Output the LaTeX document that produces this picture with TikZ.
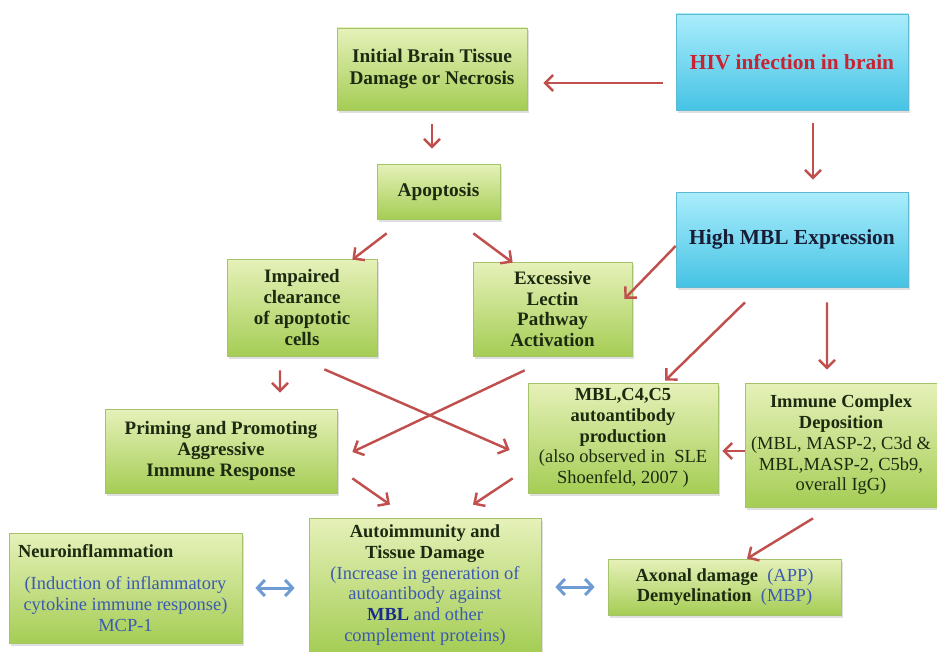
\documentclass[tikz,border=0pt]{standalone}
\usepackage{fontspec}
\setmainfont{Liberation Serif}
\usepackage{xcolor}
\usepackage{tikz}
\usetikzlibrary{shapes, arrows.meta, positioning, calc, shadows}
\definecolor{FlowRed}{RGB}{192,80,77}
\definecolor{FlowBlue}{RGB}{110,155,210}
\definecolor{LeafTop}{RGB}{230,241,185}
\definecolor{LeafBottom}{RGB}{165,205,85}
\definecolor{LeafEdge}{RGB}{165,195,105}
\definecolor{SkyTop}{RGB}{170,237,252}
\definecolor{SkyBottom}{RGB}{70,195,228}
\definecolor{SkyEdge}{RGB}{95,185,210}
\definecolor{InkGreen}{RGB}{28,42,16}
\definecolor{InkBlue}{RGB}{60,90,175}
\definecolor{InkNavy}{RGB}{25,45,140}
\definecolor{InkDark}{RGB}{25,30,55}
\definecolor{HIVRed}{RGB}{200,35,50}

\begin{document}
\begin{tikzpicture}[node distance=1cm, >=Stealth]
      \tikzstyle{leaf} = [rectangle, draw=LeafEdge, top color=LeafTop, bottom color=LeafBottom, line width=0.4pt, align=center, inner sep=2pt, text=InkGreen, font=\fontsize{10.5}{11.8}\selectfont, drop shadow={shadow xshift=0.04cm, shadow yshift=-0.05cm, opacity=0.25}]
      \tikzstyle{sky} = [rectangle, draw=SkyEdge, top color=SkyTop, bottom color=SkyBottom, line width=0.4pt, align=center, text=InkDark, font=\fontsize{12.2}{14}\selectfont\bfseries, drop shadow={shadow xshift=0.04cm, shadow yshift=-0.05cm, opacity=0.25}]
      \tikzstyle{flow} = [-{Straight Barb[length=1.6mm, width=3.2mm]}, draw=FlowRed, line width=1.4pt]
      \tikzstyle{link} = [{Straight Barb[length=1.5mm, width=3.2mm]}-{Straight Barb[length=1.5mm, width=3.2mm]}, draw=FlowBlue, line width=1.7pt]

      \useasboundingbox (0,0) rectangle (18.74,-13.02);

      % Top row
      \node (init) [leaf, minimum width=3.8cm, minimum height=1.64cm, font=\fontsize{11}{12.4}\selectfont\bfseries] at (8.64,-1.38) {Initial Brain Tissue\\Damage or Necrosis};
      \node (hiv) [sky, text=HIVRed, minimum width=4.64cm, minimum height=1.92cm, right of=init, xshift=6.2cm, yshift=0.14cm] {HIV infection in brain};
      \node (apop) [leaf, font=\fontsize{11}{12.4}\selectfont\bfseries, minimum width=2.46cm, minimum height=1.1cm, below of=init, xshift=0.13cm, yshift=-1.45cm] {Apoptosis};
      \node (high) [sky, minimum width=4.64cm, minimum height=1.9cm, below of=hiv, yshift=-2.55cm] {High MBL Expression};

      % Middle
      \node (impair) [leaf, font=\fontsize{10.8}{12}\selectfont\bfseries, minimum width=3.0cm, minimum height=1.94cm, below of=apop, xshift=-2.73cm, yshift=-1.32cm] {Impaired\\clearance\\of apoptotic\\cells};
      \node (lectin) [leaf, font=\fontsize{10.8}{11.6}\selectfont\bfseries, minimum width=3.18cm, minimum height=1.88cm, right of=impair, xshift=4.01cm, yshift=-0.03cm] {Excessive\\Lectin\\Pathway\\Activation};
      \node (prime) [leaf, font=\fontsize{10.8}{11.8}\selectfont\bfseries, minimum width=4.64cm, minimum height=1.68cm, below of=impair, xshift=-1.62cm, yshift=-1.87cm] {Priming and Promoting\\Aggressive\\Immune Response};
      \node (mblc) [leaf, minimum width=3.8cm, minimum height=2.2cm, below of=lectin, xshift=1.41cm, yshift=-1.58cm] {\textbf{MBL,C4,C5}\\\textbf{autoantibody}\\\textbf{production}\\(also observed in\ \ SLE\\Shoenfeld, 2007 )};
      \node (immune) [leaf, minimum width=3.84cm, minimum height=2.48cm, right of=mblc, xshift=3.36cm, yshift=-0.14cm] {\textbf{Immune Complex}\\\textbf{Deposition}\\(MBL, MASP-2, C3d \&\\MBL,MASP-2, C5b9,\\overall IgG)};

      % Bottom row
      \node (auto) [leaf, minimum width=4.64cm, minimum height=2.68cm, below of=prime, xshift=4.08cm, yshift=-1.68cm] {\textbf{Autoimmunity and}\\\textbf{Tissue Damage}\\\textcolor{InkBlue}{(Increase in generation of}\\\textcolor{InkBlue}{autoantibody against}\\\textcolor{InkNavy}{\textbf{MBL}}~\textcolor{InkBlue}{and other}\\\textcolor{InkBlue}{complement proteins)}};
      \node (neuro) [leaf, minimum width=4.66cm, minimum height=2.2cm, left of=auto, xshift=-4.99cm, yshift=-0.06cm] {\makebox[4.3cm][l]{\bfseries Neuroinflammation}\\[0.22cm]\textcolor{InkBlue}{(Induction of inflammatory}\\\textcolor{InkBlue}{cytokine immune response)}\\\textcolor{InkBlue}{MCP-1}};
      \node (axon) [leaf, minimum width=4.66cm, minimum height=1.12cm, right of=auto, xshift=4.99cm, yshift=-0.04cm] {\textbf{Axonal damage}\ \ \textcolor{InkBlue}{(APP)}\\\textbf{Demyelination}\ \ \textcolor{InkBlue}{(MBP)}};

      % Connections
      \draw[flow] ([shift={(-0.26,-0.42)}]hiv.west) -- ([shift={(0.32,-0.28)}]init.east);
      \draw[flow] ([yshift=-0.28cm]init.south) -- ([shift={(-0.13,0.30)}]apop.north);
      \draw[flow] ([shift={(0.42,-0.26)}]hiv.south) -- ([shift={(0.42,0.24)}]high.north);
      \draw[flow] ([shift={(0.2,-0.28)}]apop.south west) -- ([shift={(-0.5,-0.02)}]impair.north east);
      \draw[flow] ([shift={(-0.54,-0.28)}]apop.south east) -- ([shift={(0.8,-0.02)}]lectin.north west);
      \draw[flow] ([yshift=-0.13cm]high.west) -- ([shift={(-0.16,0.2)}]lectin.east);
      \draw[flow] ([shift={(-0.94,-0.3)}]high.south) -- ([shift={(0.84,0.04)}]mblc.north);
      \draw[flow] ([shift={(0.7,-0.3)}]high.south) -- ([shift={(-0.28,0.26)}]immune.north);
      \draw[flow] ([shift={(-0.44,-0.28)}]impair.south) -- ([shift={(1.18,0.32)}]prime.north);

      % Crossing arrows
      \draw[flow] ([shift={(-1.06,-0.26)}]impair.south east) -- ([shift={(-0.36,-0.24)}]mblc.west);
      \draw[flow] ([shift={(1.04,-0.28)}]lectin.south west) -- ([shift={(0.3,-0.02)}]prime.east);

      % Into the bottom row
      \draw[flow] ([shift={(0.3,0.3)}]prime.south east) -- ([shift={(-0.7,0.26)}]auto.north);
      \draw[flow] ([shift={(-0.3,0.3)}]mblc.south west) -- ([shift={(0.96,0.26)}]auto.north);
      \draw[flow] ([yshift=-0.12cm]immune.west) -- ([shift={(0.08,-0.26)}]mblc.east);
      \draw[flow] ([shift={(-0.56,-0.22)}]immune.south) -- ([xshift=0.45cm]axon.north);

      % Two-way links
      \draw[link] ([xshift=0.26cm]neuro.east) -- ([shift={(-0.28,-0.06)}]auto.west);
      \draw[link] ([shift={(0.28,-0.04)}]auto.east) -- ([xshift=-0.26cm]axon.west);
    \end{tikzpicture}
\end{document}
